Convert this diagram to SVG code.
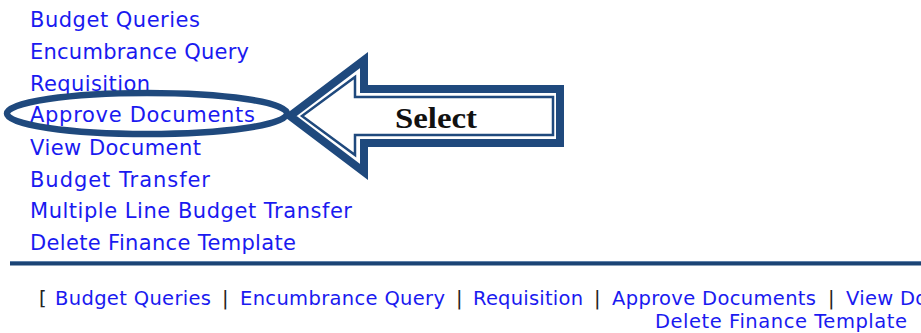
<svg xmlns="http://www.w3.org/2000/svg" width="921" height="333" viewBox="0 0 921 333">
<style>
.lnk{font-family:"DejaVu Sans",Verdana,sans-serif;fill:#1a1af0}
.top{font-size:21px}
.bot{font-size:19.5px}
.sep{font-family:"DejaVu Sans",Verdana,sans-serif;font-size:19.5px;fill:#222}
.shape{fill:none;stroke:#1f497d;stroke-linejoin:miter;stroke-miterlimit:10}
.lbl{font-family:"Liberation Serif","Times New Roman",serif;font-weight:bold;font-size:30px;fill:#111}
</style>
<rect width="921" height="333" fill="#fff"/>
<g id="menu">
<text class="lnk top" x="30" y="27" textLength="170" lengthAdjust="spacing">Budget Queries</text>
<text class="lnk top" x="30" y="59" textLength="219" lengthAdjust="spacing">Encumbrance Query</text>
<text class="lnk top" x="30" y="91" textLength="120" lengthAdjust="spacing">Requisition</text>
<text class="lnk top" x="30" y="122" textLength="225" lengthAdjust="spacing">Approve Documents</text>
<text class="lnk top" x="30" y="155" textLength="171" lengthAdjust="spacing">View Document</text>
<text class="lnk top" x="30" y="187" textLength="180" lengthAdjust="spacing">Budget Transfer</text>
<text class="lnk top" x="30" y="218" textLength="322" lengthAdjust="spacing">Multiple Line Budget Transfer</text>
<text class="lnk top" x="30" y="250" textLength="266" lengthAdjust="spacing">Delete Finance Template</text>
</g>
<g id="rule">
<rect x="10" y="261" width="911" height="4.5" fill="#1b4475"/>
<rect x="10" y="261" width="911" height="1" fill="#5d7fa8"/>
</g>
<g id="footer">
<text class="sep" x="39" y="305">[</text>
<text class="lnk bot" x="55" y="305" textLength="156" lengthAdjust="spacing">Budget Queries</text>
<text class="sep" x="222" y="305">|</text>
<text class="lnk bot" x="240" y="305" textLength="205" lengthAdjust="spacing">Encumbrance Query</text>
<text class="sep" x="456" y="305">|</text>
<text class="lnk bot" x="473" y="305" textLength="110" lengthAdjust="spacing">Requisition</text>
<text class="sep" x="594" y="305">|</text>
<text class="lnk bot" x="612" y="305" textLength="204" lengthAdjust="spacing">Approve Documents</text>
<text class="sep" x="828" y="305">|</text>
<text class="lnk bot" x="846" y="305" textLength="157" lengthAdjust="spacing">View Document</text>
<text class="lnk bot" x="655" y="328" textLength="252" lengthAdjust="spacing">Delete Finance Template</text>
</g>
<g id="highlight">
<ellipse class="shape" cx="147" cy="113.5" rx="140" ry="20.5" stroke-width="6.5"/>
</g>
<g id="select-arrow">
<polygon points="364,60 364,89 560,89 560,143 364,143 364,172 290,116" fill="#fff" stroke="none"/>
<polygon class="shape" points="364,60 364,89 560,89 560,143 364,143 364,172 290,116" stroke-width="8"/>
<polygon class="shape" points="355,77 355,97 553,97 553,135 355,135 355,155 302,116" stroke-width="2.5"/>
<text class="lbl" x="395" y="128" textLength="82" lengthAdjust="spacingAndGlyphs">Select</text>
</g>
<g id="connectors"/>
</svg>
